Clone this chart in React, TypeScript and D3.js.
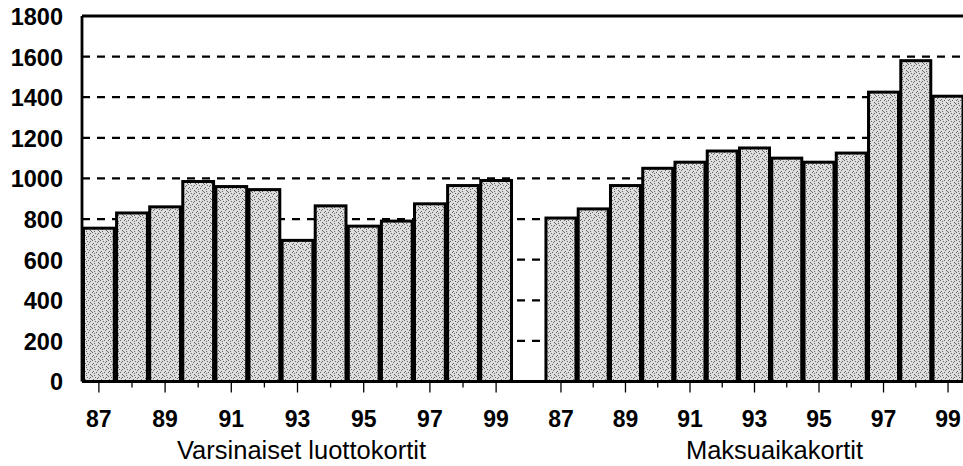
import React, { useEffect, useRef } from 'react';
import * as d3 from 'd3';

const years = ['87', '88', '89', '90', '91', '92', '93', '94', '95', '96', '97', '98', '99'];
const labeledYears = ['87', '89', '91', '93', '95', '97', '99'];
const varsinaiset = [755, 830, 860, 985, 960, 945, 695, 865, 765, 790, 875, 965, 990];
const maksuaika = [805, 850, 965, 1050, 1080, 1135, 1150, 1100, 1080, 1125, 1425, 1580, 1405];
const groupNames = ['Varsinaiset luottokortit', 'Maksuaikakortit'];
const yTicks = [0, 200, 400, 600, 800, 1000, 1200, 1400, 1600, 1800];

const W = 963;
const H = 466;
const FONT = '"Liberation Sans", Arial, Helvetica, sans-serif';

// stipple texture for the bars (fixed dot positions in a small tile)
const dots = [[1, 2], [4, 0], [6, 5], [2, 6], [5, 3], [0, 4], [7, 1], [3, 7], [6, 7], [2, 1], [4, 4]];

const App = () => {
  const svgRef = useRef(null);

  useEffect(() => {
    const svg = d3.select(svgRef.current);
    svg.selectAll('*').remove();

    const left = 82;
    const right = W;
    const top = 16;
    const bottom = 381.5;

    const y = d3.scaleLinear().domain([0, 1800]).range([bottom, top]);

    const groups = [
      { name: groupNames[0], values: varsinaiset, range: [82.5, 512.5], labelShift: 4 },
      { name: groupNames[1], values: maksuaika, range: [545, 964], labelShift: 20 },
    ];

    const defs = svg.append('defs');
    const pat = defs.append('pattern')
      .attr('id', 'stipple')
      .attr('width', 8)
      .attr('height', 8)
      .attr('patternUnits', 'userSpaceOnUse');
    pat.append('rect').attr('width', 8).attr('height', 8).attr('fill', '#dedede');
    pat.selectAll('rect.dot')
      .data(dots)
      .enter()
      .append('rect')
      .attr('class', 'dot')
      .attr('x', d => d[0])
      .attr('y', d => d[1])
      .attr('width', 1)
      .attr('height', 1)
      .attr('fill', '#666');

    // dashed grid
    svg.append('g')
      .selectAll('line')
      .data(yTicks.filter(t => t > 0 && t < 1800))
      .enter()
      .append('line')
      .attr('x1', left)
      .attr('x2', right)
      .attr('y1', d => y(d))
      .attr('y2', d => y(d))
      .style('stroke', '#000')
      .style('stroke-width', 2.2)
      .style('stroke-dasharray', '8,7');

    groups.forEach(g => {
      const x = d3.scaleBand().domain(years).range(g.range).paddingInner(0.07).paddingOuter(0.03);
      const gg = svg.append('g');

      gg.selectAll('rect')
        .data(g.values)
        .enter()
        .append('rect')
        .attr('x', (d, i) => x(years[i]))
        .attr('y', d => y(d))
        .attr('width', x.bandwidth())
        .attr('height', d => y(0) - y(d))
        .style('fill', 'url(#stipple)')
        .style('stroke', '#000')
        .style('stroke-width', 3);

      gg.selectAll('line.tick')
        .data(years)
        .enter()
        .append('line')
        .attr('class', 'tick')
        .attr('x1', d => x(d) + x.bandwidth() / 2)
        .attr('x2', d => x(d) + x.bandwidth() / 2)
        .attr('y1', bottom)
        .attr('y2', d => bottom + (labeledYears.includes(d) ? 11 : 6))
        .style('stroke', '#000')
        .style('stroke-width', 1.3);

      gg.selectAll('text.yr')
        .data(labeledYears)
        .enter()
        .append('text')
        .attr('class', 'yr')
        .attr('x', d => x(d) + x.bandwidth() / 2)
        .attr('y', 427)
        .attr('text-anchor', 'middle')
        .style('font-family', FONT)
        .style('font-weight', 'bold')
        .style('font-size', '23px')
        .text(d => d);

      gg.append('text')
        .attr('x', x('93') + x.bandwidth() / 2 + g.labelShift)
        .attr('y', 459)
        .attr('text-anchor', 'middle')
        .style('font-family', FONT)
        .style('font-size', '25.5px')
        .text(g.name);
    });

    // frame: left axis, top line, baseline
    svg.append('line')
      .attr('x1', left).attr('x2', left).attr('y1', top).attr('y2', bottom)
      .style('stroke', '#000').style('stroke-width', 2.8);
    svg.append('line')
      .attr('x1', left).attr('x2', right).attr('y1', top).attr('y2', top)
      .style('stroke', '#000').style('stroke-width', 2.8);
    svg.append('line')
      .attr('x1', left).attr('x2', right).attr('y1', bottom).attr('y2', bottom)
      .style('stroke', '#000').style('stroke-width', 2.8);

    svg.append('g')
      .selectAll('text')
      .data(yTicks)
      .enter()
      .append('text')
      .attr('x', 63)
      .attr('y', d => y(d))
      .attr('dy', '0.38em')
      .attr('text-anchor', 'end')
      .style('font-family', FONT)
      .style('font-weight', 'bold')
      .style('font-size', '23.5px')
      .text(d => d);
  }, []);

  return (
    <svg
      ref={svgRef}
      width={W}
      height={H}
      style={{ position: 'absolute', left: 0, top: 0, background: '#fff' }}
    ></svg>
  );
};

export default App;
